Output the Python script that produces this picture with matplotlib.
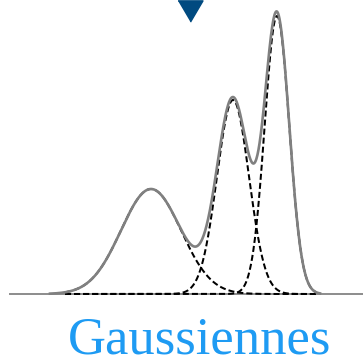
import numpy as np
import matplotlib
matplotlib.use("Agg")
import matplotlib.pyplot as plt

# parametres des trois gaussiennes (unites: pixels de l'image)
centres = [151, 233, 277]
largeurs = [30, 16, 12.3]
hauteurs = [105, 194, 278]
# etendue des gaussiennes en pointilles
x_pointilles = [65, 316]

x_ligne = [10, 363]     # ligne de base
x_somme = [50, 320]     # etendue de la somme
x_fleche = 190
titre = "Gaussiennes"


def gauss(x, c, s, h):
    return h * np.exp(-(x - c) ** 2 / (2 * s ** 2))


fig = plt.figure(figsize=(3.63, 3.60), dpi=100)
ax = fig.add_axes([0, 0, 1, 1])
ax.set_xlim(0, 363)
ax.set_ylim(-66, 294)
ax.axis("off")

ax.plot(x_ligne, [0, 0], color="#8c8c8c", lw=1.4, zorder=1)

xx = np.linspace(x_pointilles[0], x_pointilles[1], 1000)
for c, s, h in zip(centres, largeurs, hauteurs):
    ax.plot(xx, gauss(xx, c, s, h), color="black", lw=1.45,
            ls=(0, (3, 1.5)), zorder=2)

xs = np.linspace(x_somme[0], x_somme[1], 800)
somme = sum(gauss(xs, c, s, h) for c, s, h in zip(centres, largeurs, hauteurs))
ax.plot(xs, somme, color="#808080", lw=1.9, zorder=3)

# fleche en haut
ax.plot([x_fleche], [283.5], marker=[(-1, 0.85), (1, 0.85), (0, -0.85)],
        markersize=18, color="#004a80", zorder=4, clip_on=False)

ax.text(199.5, -60, titre, ha="center", va="baseline",
        family="Liberation Serif", fontsize=38, color="#1e9bf3")

fig.savefig("out.png", dpi=100)
